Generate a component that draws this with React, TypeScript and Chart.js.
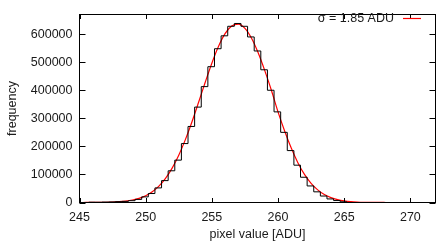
import React, { useEffect, useRef } from "react";
import { Chart, registerables } from "chart.js";
Chart.register(...registerables);

// Histogram: left edge of first bin, bin width, counts per bin
const binStart = 245.7;
const binWidth = 0.5;
const binCounts = [
  1000, 800, 1500, 2000, 3000, 4000, 6500, 11000, 20000, 32000,
  52000, 78000, 113000, 151000, 210000, 271000, 340000, 413000, 484000, 548000,
  594000, 628000, 638000, 628000, 590000, 540000, 473000, 400000, 323000, 250000,
  185000, 133000, 90000, 59000, 38000, 23000, 12700, 7000, 2500,
];

// Gaussian fit curve, sampled every 0.5 ADU from 245
const fitStart = 245;
const fitStep = 0.5;
const fitValues = [
  40, 90, 180, 380, 770, 1480, 2780, 5030, 8800, 14800,
  24300, 38300, 58400, 86000, 122500, 168600, 224000, 287800, 357200, 428500,
  496500, 556000, 601600, 629000, 635600, 620500, 585300, 533600, 470000, 400000,
  323000, 255000, 194000, 142000, 100000, 68000, 45000, 28500, 17500, 10500,
  6000, 3300, 1800, 900, 450, 220, 100, 45, 20, 0,
  0, 0, 0, 0, 0,
];

const xTicks = [245, 250, 255, 260, 265, 270];
const yTicks = [0, 100000, 200000, 300000, 400000, 500000, 600000];
const xMin = 245;
const xMax = 271.9;
const yMin = 0;
const yMax = 670000;
const legendLabel = "σ = 1.85 ADU";
const xTitle = "pixel value [ADU]";
const yTitle = "frequency";

const FONT = "'Liberation Sans', Arial, Helvetica, sans-serif";
const TEXT = "#1a1a1a";

export default function App() {
  const ref = useRef<HTMLCanvasElement>(null);

  useEffect(() => {
    if (!ref.current) return;
    const histPts = binCounts.map((v, i) => ({ x: binStart + i * binWidth, y: v }));
    histPts.push({ x: binStart + binCounts.length * binWidth, y: 0 });
    const fitPts = fitValues.map((v, i) => ({ x: fitStart + i * fitStep, y: v }));

    const frame = {
      id: "frame",
      afterDraw(chart: any) {
        const { ctx, chartArea: a, scales } = chart;
        ctx.save();
        ctx.strokeStyle = "#000";
        ctx.lineWidth = 1;
        ctx.strokeRect(a.left, a.top, a.right - a.left, a.bottom - a.top);
        ctx.beginPath();
        for (const t of xTicks) {
          const x = Math.round(scales.x.getPixelForValue(t)) + 0.5;
          ctx.moveTo(x, a.bottom);
          ctx.lineTo(x, a.bottom - 4.5);
          ctx.moveTo(x, a.top);
          ctx.lineTo(x, a.top + 4.5);
        }
        for (const t of yTicks) {
          const y = Math.round(scales.y.getPixelForValue(t)) + 0.5;
          ctx.moveTo(a.left, y);
          ctx.lineTo(a.left + 6, y);
          ctx.moveTo(a.right, y);
          ctx.lineTo(a.right - 6, y);
        }
        ctx.stroke();
        // legend
        ctx.font = `12.5px ${FONT}`;
        ctx.fillStyle = TEXT;
        ctx.textAlign = "right";
        ctx.textBaseline = "middle";
        ctx.fillText(legendLabel, 394, 19);
        ctx.strokeStyle = "#ff0000";
        ctx.lineWidth = 1.2;
        ctx.beginPath();
        ctx.moveTo(403, 18.5);
        ctx.lineTo(421, 18.5);
        ctx.stroke();
        ctx.restore();
      },
    };

    const chart = new Chart(ref.current, {
      type: "line",
      data: {
        datasets: [
          {
            label: "histogram",
            data: histPts,
            stepped: true,
            borderColor: "#000000",
            borderWidth: 1,
            pointRadius: 0,
            fill: false,
          },
          {
            label: legendLabel,
            data: fitPts,
            borderColor: "#ff0000",
            borderWidth: 1.2,
            pointRadius: 0,
            cubicInterpolationMode: "monotone",
            fill: false,
          },
        ],
      },
      options: {
        animation: false,
        responsive: false,
        maintainAspectRatio: false,
        layout: { padding: { top: 7.5, right: 0.5, left: 0, bottom: 0 } },
        plugins: { legend: { display: false }, tooltip: { enabled: false } },
        scales: {
          x: {
            type: "linear",
            min: xMin,
            max: xMax,
            grid: { display: false, drawTicks: false },
            border: { display: false },
            afterFit: (s: any) => {
              s.height = 38.5;
            },
            afterBuildTicks: (s: any) => {
              s.ticks = xTicks.map((v) => ({ value: v }));
            },
            ticks: {
              autoSkip: false,
              maxRotation: 0,
              padding: 8,
              color: TEXT,
              font: { family: FONT, size: 12.5 },
              callback: (v: any) => String(v),
            },
            title: {
              display: true,
              text: xTitle,
              color: TEXT,
              font: { family: FONT, size: 12.5 },
              padding: { top: 0, bottom: -1.5 },
            },
          },
          y: {
            type: "linear",
            min: yMin,
            max: yMax,
            grid: { display: false, drawTicks: false },
            border: { display: false },
            afterFit: (s: any) => {
              s.width = 79.5;
            },
            afterBuildTicks: (s: any) => {
              s.ticks = yTicks.map((v) => ({ value: v }));
            },
            ticks: {
              autoSkip: false,
              padding: 7,
              color: TEXT,
              font: { family: FONT, size: 12.5 },
              callback: (v: any) => String(v),
            },
            title: {
              display: true,
              text: yTitle,
              color: TEXT,
              font: { family: FONT, size: 12.5 },
              padding: { top: 5, bottom: 0 },
            },
          },
        },
      },
      plugins: [frame],
    });
    return () => chart.destroy();
  }, []);

  return (
    <div style={{ position: "absolute", left: 0, top: 0, width: 436, height: 241, background: "#fff" }}>
      <canvas ref={ref} width={436} height={241} style={{ display: "block", width: 436, height: 241 }} />
    </div>
  );
}
